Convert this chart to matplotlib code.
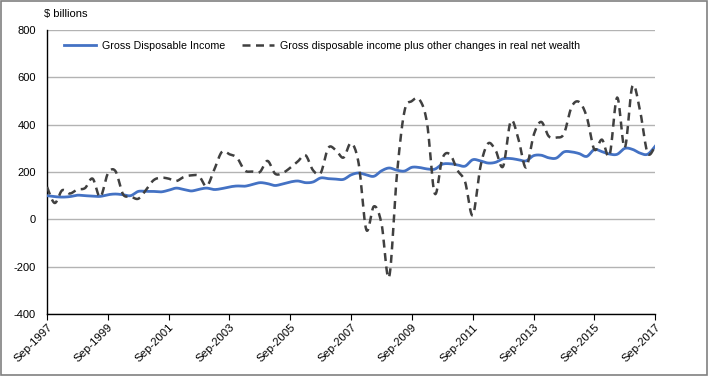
import numpy as np
import pandas as pd
import matplotlib
matplotlib.use("Agg")
import matplotlib.pyplot as plt
from matplotlib.patches import Rectangle

plt.rcParams['font.family'] = ['Liberation Sans', 'DejaVu Sans']

quarters = pd.date_range('1997-09-30', periods=81, freq='QE')

gdi = [100, 96, 94, 96, 102, 100, 98, 97, 104, 107,
       104, 100, 118, 118, 118, 116, 123, 132, 126, 120,
       127, 132, 126, 130, 137, 141, 140, 147, 155, 151,
       143, 150, 158, 162, 155, 158, 175, 172, 170, 169,
       188, 196, 188, 182, 205, 217, 208, 204, 220, 219,
       213, 212, 233, 235, 230, 225, 252, 247, 238, 241,
       256, 257, 252, 247, 269, 271, 260, 259, 285, 285,
       278, 266, 295, 286, 276, 275, 300, 296, 280, 275,
       309]

gdi_plus = [137, 69, 123, 109, 126, 132, 172, 94, 193, 204,
            106, 97, 87, 123, 165, 176, 172, 162, 179, 186,
            183, 140, 210, 285, 275, 260, 207, 202, 200, 247,
            193, 196, 218, 245, 271, 207, 196, 302, 292, 261,
            322, 235, -44, 55, -18, -244, 179, 454, 500, 506,
            405, 109, 257, 275, 207, 158, 17, 221, 320, 292,
            224, 415, 341, 219, 355, 412, 351, 346, 362, 475,
            496, 433, 295, 337, 271, 515, 303, 563, 461, 280,
            310]

series_names = ["Gross Disposable Income",
                "Gross disposable income plus other changes in real net wealth"]
y_ticks = [-400, -200, 0, 200, 400, 600, 800]


def smooth(x, y, n=12):
    """Catmull-Rom style smoothing similar to spreadsheet smoothed lines."""
    x = np.asarray(x, float)
    y = np.asarray(y, float)
    xs, ys = [], []
    for i in range(len(x) - 1):
        p0 = (x[i - 1] if i > 0 else x[i], y[i - 1] if i > 0 else y[i])
        p1 = (x[i], y[i])
        p2 = (x[i + 1], y[i + 1])
        p3 = (x[i + 2] if i + 2 < len(x) else x[i + 1], y[i + 2] if i + 2 < len(x) else y[i + 1])
        t = np.linspace(0, 1, n, endpoint=False)
        c1 = (p1[0] + (p2[0] - p0[0]) / 6, p1[1] + (p2[1] - p0[1]) / 6)
        c2 = (p2[0] - (p3[0] - p1[0]) / 6, p2[1] - (p3[1] - p1[1]) / 6)
        bx = (1 - t) ** 3 * p1[0] + 3 * (1 - t) ** 2 * t * c1[0] + 3 * (1 - t) * t ** 2 * c2[0] + t ** 3 * p2[0]
        by = (1 - t) ** 3 * p1[1] + 3 * (1 - t) ** 2 * t * c1[1] + 3 * (1 - t) * t ** 2 * c2[1] + t ** 3 * p2[1]
        xs.extend(bx)
        ys.extend(by)
    xs.append(x[-1])
    ys.append(y[-1])
    return np.array(xs), np.array(ys)


fig = plt.figure(figsize=(7.08, 3.76), dpi=100)
ax = fig.add_axes([0.0664, 0.165, 0.859, 0.755])

xnum = np.arange(len(quarters))
sx, sy = smooth(xnum, gdi)
ax.plot(sx, sy, color='#4472C4', lw=2.0, label=series_names[0], zorder=3)
sx2, sy2 = smooth(xnum, gdi_plus)
ax.plot(sx2, sy2, color='#404040', lw=1.8, ls=(0, (3.2, 2.2)), label=series_names[1], zorder=4)

ax.set_xlim(0, len(quarters) - 1)
ax.set_ylim(-400, 800)
ax.set_yticks(y_ticks)
ax.set_yticklabels([str(v) for v in y_ticks], fontsize=8)
tick_idx = list(range(0, len(quarters), 8))
ax.set_xticks(tick_idx)
ax.set_xticklabels([quarters[i].strftime('%b-%Y') for i in tick_idx],
                   rotation=45, ha='right', rotation_mode='anchor', fontsize=8.2)
ax.tick_params(axis='y', length=0, pad=8)
ax.tick_params(axis='x', length=4, direction='out', pad=2, width=0.8)

ax.grid(axis='y', color='#b3b3b3', lw=1.0)
ax.set_axisbelow(True)
for s in ['top', 'right']:
    ax.spines[s].set_visible(False)
ax.spines['left'].set_color('black')
ax.spines['bottom'].set_color('black')
ax.spines['left'].set_linewidth(1.0)
ax.spines['bottom'].set_linewidth(1.0)
ax.spines['bottom'].set_zorder(5)

leg = ax.legend(loc='upper left', bbox_to_anchor=(0.018, 0.985), ncol=2, frameon=False,
                fontsize=7.7, handlelength=3.0, handletextpad=0.5, columnspacing=1.6,
                borderaxespad=0.2)

fig.text(0.062, 0.962, "$ billions", fontsize=8, ha='left', va='center')

fig.patches.append(Rectangle((0.001, 0.002), 0.997, 0.995, transform=fig.transFigure,
                             fill=False, edgecolor='#808080', lw=1.2))

fig.savefig('out.png', dpi=100)
